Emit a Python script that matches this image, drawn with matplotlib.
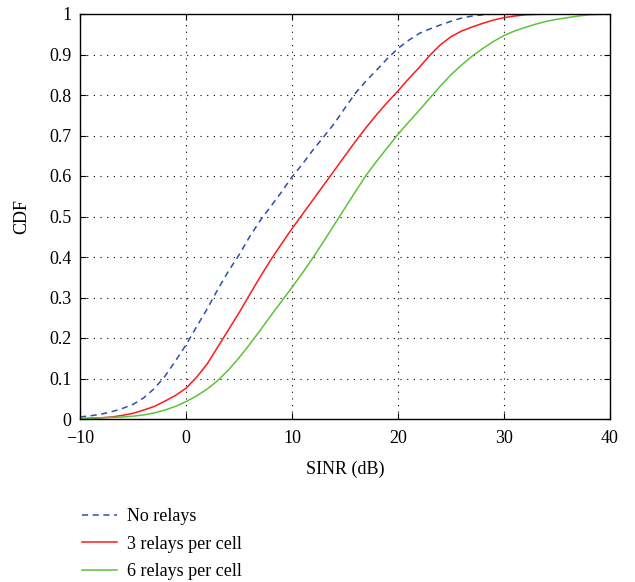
import matplotlib
matplotlib.use("Agg")
import matplotlib.pyplot as plt
import numpy as np

plt.rcParams['font.family'] = ['Liberation Serif', 'DejaVu Serif']

# Data
x_blue = list(range(-10, 30)) + [40]
y_blue = [0.005, 0.008, 0.012, 0.018, 0.026, 0.036, 0.052, 0.075, 0.105, 0.143,
          0.183, 0.228, 0.272, 0.32, 0.365, 0.405, 0.45, 0.49, 0.525, 0.56,
          0.598, 0.63, 0.665, 0.697, 0.73, 0.768, 0.805, 0.835, 0.862, 0.89,
          0.915, 0.935, 0.952, 0.963, 0.973, 0.982, 0.99, 0.995, 0.998, 1.0, 1.0]

x_red = list(range(-10, 33)) + [34, 40]
y_red = [0.001, 0.002, 0.003, 0.005, 0.009, 0.014, 0.022, 0.031, 0.044, 0.058,
         0.076, 0.103, 0.136, 0.178, 0.22, 0.262, 0.307, 0.351, 0.393, 0.432,
         0.47, 0.506, 0.542, 0.578, 0.614, 0.65, 0.686, 0.72, 0.752, 0.782,
         0.81, 0.84, 0.868, 0.898, 0.924, 0.944, 0.958, 0.968, 0.977, 0.985,
         0.991, 0.995, 0.998, 1.0, 1.0]

x_green = list(range(-10, 41))
y_green = [0.001, 0.002, 0.003, 0.004, 0.005, 0.007, 0.01, 0.015, 0.022, 0.031,
           0.043, 0.057, 0.074, 0.095, 0.121, 0.151, 0.184, 0.219, 0.255, 0.29,
           0.325, 0.361, 0.399, 0.439, 0.48, 0.521, 0.562, 0.602, 0.637, 0.67,
           0.703, 0.733, 0.762, 0.792, 0.822, 0.85, 0.874, 0.896, 0.915, 0.932,
           0.947, 0.958, 0.967, 0.975, 0.982, 0.987, 0.991, 0.995, 0.998, 0.999, 1.0]

labels = ["No relays", "3 relays per cell", "6 relays per cell"]
x_ticks = [-10, 0, 10, 20, 30, 40]
y_ticks = [0, 0.1, 0.2, 0.3, 0.4, 0.5, 0.6, 0.7, 0.8, 0.9, 1]
y_ticklabels = ["0", "0.1", "0.2", "0.3", "0.4", "0.5", "0.6", "0.7", "0.8", "0.9", "1"]

fig = plt.figure(figsize=(6.35, 5.82), dpi=100)
ax = fig.add_axes([80/635, 1 - 419/582, (610-80)/635, (419-14)/582])

l1, = ax.plot(x_blue, y_blue, color='#2f4fa8', lw=1.1, linestyle=(0, (4, 3)), label=labels[0])
l2, = ax.plot(x_red, y_red, color='#ff1a1a', lw=1.1, label=labels[1])
l3, = ax.plot(x_green, y_green, color='#5cc33a', lw=1.1, label=labels[2])

ax.set_xlim(-10, 40)
ax.set_ylim(0, 1)
ax.set_xticks(x_ticks)
ax.set_yticks(y_ticks)
ax.set_yticklabels(y_ticklabels)
ax.grid(True, color='black', linestyle=(0, (1, 5)), linewidth=0.8)
ax.tick_params(direction='in', top=True, right=True, length=4, labelsize=13, width=0.8)
ax.tick_params(axis='x', pad=8)
ax.tick_params(axis='y', pad=6)
for s in ax.spines.values():
    s.set_linewidth(1.0)
ax.set_xlabel("SINR (dB)", fontsize=13, labelpad=10)
ax.set_ylabel("CDF", fontsize=13, labelpad=14)

fig.legend(handles=[l1, l2, l3], loc='upper left', bbox_to_anchor=(66/635, 1 - 492/582),
           frameon=False, fontsize=13, handlelength=1.9, handletextpad=0.6, labelspacing=0.58)

fig.savefig("out.png", dpi=100)
